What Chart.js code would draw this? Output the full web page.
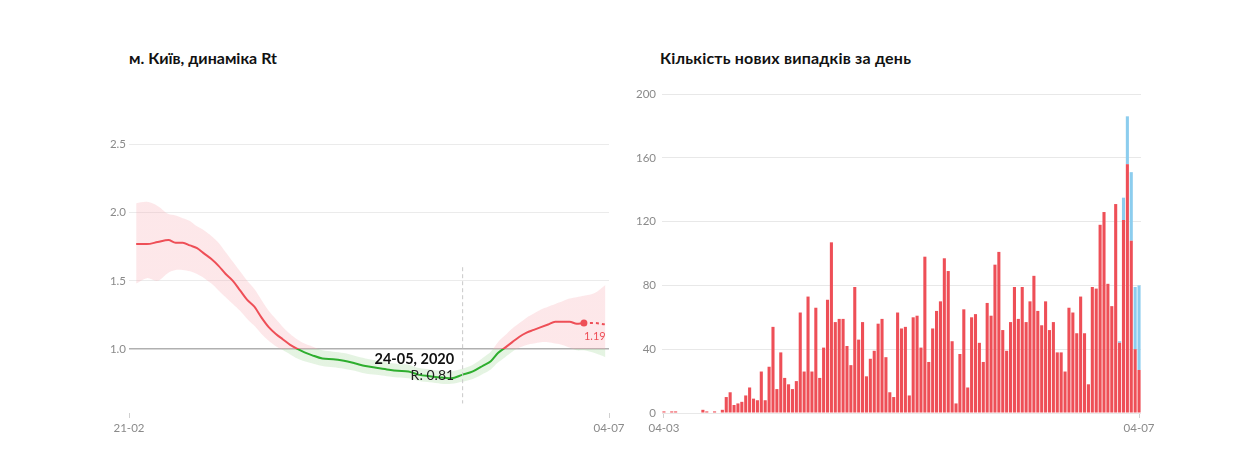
<!DOCTYPE html>
<html>
<head>
<meta charset="utf-8">
<script src="https://cdn.jsdelivr.net/npm/chart.js@4.4.1/dist/chart.umd.min.js"></script>
<style>
  body { margin:0; background:#fff; width:1257px; height:466px; overflow:hidden; font-family:Lato, 'Open Sans', sans-serif; }
  .title { position:absolute; top:48px; font-size:16px; font-weight:700; color:#111; line-height:20px; white-space:nowrap; }
  .box { position:absolute; top:70px; height:370px; }
</style>
</head>
<body>
<div class="title" style="left:129px;">м. Київ, динаміка Rt</div>
<div class="title" style="left:660px; letter-spacing:0.2px;">Кількість нових випадків за день</div>
<div class="box" style="left:80px; width:549px;"><canvas id="rtChart"></canvas></div>
<div class="box" style="left:620px; width:541px;"><canvas id="casesChart"></canvas></div>
<script>
// Rt: days counted from 21-02
const rtDays   = [2, 5, 8, 11, 13, 15, 17, 19, 21, 23, 25, 27, 29, 31, 33, 35, 37, 39, 41, 43, 45, 47, 49, 51, 54, 57, 60, 63, 66, 69, 72, 75, 78, 81, 84, 87, 90, 93, 96, 99, 101, 103, 105, 107, 109, 111, 113, 115, 117, 119, 121, 123, 125, 127, 130, 133];
const rtValues = [1.77, 1.77, 1.785, 1.80, 1.78, 1.78, 1.76, 1.74, 1.70, 1.66, 1.61, 1.55, 1.50, 1.43, 1.36, 1.31, 1.23, 1.16, 1.11, 1.07, 1.03, 1.00, 0.975, 0.955, 0.93, 0.925, 0.913, 0.895, 0.875, 0.862, 0.85, 0.84, 0.835, 0.81, 0.80, 0.79, 0.785, 0.81, 0.835, 0.88, 0.91, 0.97, 1.01, 1.05, 1.09, 1.12, 1.14, 1.16, 1.18, 1.20, 1.20, 1.20, 1.185, 1.19, 1.19, 1.18];
const rtLow    = [1.48, 1.52, 1.50, 1.56, 1.58, 1.58, 1.57, 1.55, 1.52, 1.48, 1.43, 1.38, 1.33, 1.28, 1.22, 1.17, 1.11, 1.06, 1.02, 0.99, 0.96, 0.93, 0.91, 0.895, 0.875, 0.865, 0.855, 0.84, 0.82, 0.81, 0.80, 0.79, 0.785, 0.765, 0.755, 0.745, 0.745, 0.76, 0.78, 0.82, 0.85, 0.90, 0.94, 0.98, 1.01, 1.03, 1.04, 1.05, 1.05, 1.04, 1.03, 1.01, 0.99, 0.99, 0.97, 0.94];
const rtHigh   = [2.07, 2.08, 2.05, 1.99, 1.98, 1.96, 1.94, 1.90, 1.87, 1.83, 1.78, 1.71, 1.64, 1.57, 1.50, 1.44, 1.36, 1.28, 1.22, 1.16, 1.11, 1.07, 1.04, 1.02, 0.99, 0.98, 0.97, 0.95, 0.93, 0.915, 0.90, 0.89, 0.885, 0.86, 0.85, 0.84, 0.835, 0.855, 0.885, 0.94, 0.98, 1.05, 1.10, 1.15, 1.19, 1.23, 1.26, 1.29, 1.31, 1.33, 1.35, 1.37, 1.38, 1.39, 1.41, 1.47];
const rtTickDays = [0, 134];
const rtTickLabels = ['21-02', '04-07'];
const rtYTicks = [1.0, 1.5, 2.0, 2.5];
const rtLastSolidDay = 127;
const rtMarkDay = 93;
const rtMarkTitle = '24-05, 2020';
const rtMarkText = 'R: 0.81';

// new cases per day from 04-03
const casesStart = new Date(2020, 2, 4);
const confirmedCases = [1, 0, 1, 1, 0, 0, 0, 0, 0, 0, 2, 1, 0, 1, 0, 2, 10, 13, 5, 6,
  7, 11, 16, 9, 8, 26, 8, 29, 54, 15, 38, 22, 18, 15, 20, 63, 26, 73, 26, 66,
  22, 41, 71, 107, 57, 59, 59, 42, 30, 79, 46, 57, 23, 34, 39, 56, 59, 35, 13, 10,
  63, 53, 54, 11, 60, 61, 41, 98, 32, 53, 64, 70, 97, 89, 45, 6, 37, 65, 16, 60,
  62, 44, 32, 69, 61, 93, 101, 52, 39, 57, 79, 59, 79, 57, 70, 86, 64, 55, 70, 52,
  57, 38, 38, 26, 66, 63, 50, 73, 50, 18, 79, 78, 118, 126, 81, 67, 131, 44, 121, 156,
  108, 40, 27];
const pendingCases = new Array(117).fill(0).concat([1, 14, 30, 43, 39, 53]);
const casesYTicks = { min: 0, max: 200, step: 40 };

const RED = '#ee4f57';
const GREEN = '#2eae2e';
const BLUE = '#8ccdee';
const TICK_FONT = { family: 'Lato', size: 11.5 };
const TICK_COLOR = '#8a8a8a';

const caseLabels = confirmedCases.map((v, i) => {
    const d = new Date(casesStart.getTime() + i * 86400000);
    return String(d.getDate()).padStart(2, '0') + '-' + String(d.getMonth() + 1).padStart(2, '0');
});

function splitAtOne(ctx, above, below) {
    const chart = ctx.chart;
    const area = chart.chartArea;
    if (!area) return above;
    const y1 = chart.scales.y.getPixelForValue(1);
    const g = chart.ctx.createLinearGradient(0, area.top, 0, area.bottom);
    const stop = Math.min(Math.max((y1 - area.top) / (area.bottom - area.top), 0), 1);
    g.addColorStop(0, above); g.addColorStop(stop, above);
    g.addColorStop(stop, below); g.addColorStop(1, below);
    return g;
}

const lastSolidIdx = rtDays.indexOf(rtLastSolidDay);

const rtMarks = {
    id: 'rtMarks',
    afterDatasetsDraw(chart) {
        const { ctx, scales: { x, y } } = chart;
        const mx = x.getPixelForValue(rtMarkDay);
        ctx.save();
        ctx.strokeStyle = '#c8c8c8'; ctx.lineWidth = 1; ctx.setLineDash([4, 3]);
        ctx.beginPath(); ctx.moveTo(mx + 0.5, y.getPixelForValue(1.6)); ctx.lineTo(mx + 0.5, y.getPixelForValue(0.6)); ctx.stroke();
        ctx.setLineDash([]);
        ctx.textAlign = 'right'; ctx.textBaseline = 'middle';
        ctx.fillStyle = '#111'; ctx.font = 'bold 14.5px Lato';
        ctx.fillText(rtMarkTitle, mx - 8, 289);
        ctx.fillStyle = '#222'; ctx.font = '14px Lato';
        ctx.fillText(rtMarkText, mx - 8, 305);
        // last solid value label
        const pt = chart.getDatasetMeta(0).data[lastSolidIdx];
        ctx.textAlign = 'left'; ctx.fillStyle = RED; ctx.font = '11px Lato';
        ctx.fillText(rtValues[lastSolidIdx].toFixed(2), pt.x, pt.y + 13);
        ctx.restore();
    }
};

new Chart(document.getElementById('rtChart'), {
    type: 'line',
    data: {
        datasets: [{
            data: rtDays.map((d, i) => ({ x: d, y: rtValues[i] })),
            borderColor: ctx => splitAtOne(ctx, RED, GREEN),
            borderWidth: 2,
            fill: false,
            cubicInterpolationMode: 'monotone',
            pointRadius: ctx => ctx.dataIndex === lastSolidIdx ? 3.5 : 0,
            pointBackgroundColor: RED, pointBorderWidth: 0,
            segment: { borderDash: ctx => ctx.p0DataIndex >= lastSolidIdx ? [3, 3] : undefined }
        }, {
            data: rtDays.map((d, i) => ({ x: d, y: rtHigh[i] })),
            borderWidth: 0, pointRadius: 0, fill: false, tension: 0.3
        }, {
            data: rtDays.map((d, i) => ({ x: d, y: rtLow[i] })),
            borderWidth: 0, pointRadius: 0, tension: 0.3,
            fill: '-1',
            backgroundColor: ctx => splitAtOne(ctx, 'rgba(248,170,178,0.28)', 'rgba(150,210,140,0.25)')
        }]
    },
    options: {
        responsive: true, maintainAspectRatio: false, animation: false,
        layout: { padding: { top: 61, right: 20, bottom: 7, left: 0 } },
        plugins: { legend: { display: false }, tooltip: { enabled: false } },
        scales: {
            x: {
                type: 'linear', min: rtTickDays[0], max: rtTickDays[1],
                afterBuildTicks: s => { s.ticks = rtTickDays.map(v => ({ value: v })); },
                afterFit: s => { s.height = 20; },
                ticks: { font: TICK_FONT, color: TICK_COLOR, padding: 3, maxRotation: 0,
                    callback: v => rtTickLabels[rtTickDays.indexOf(v)] },
                grid: { drawOnChartArea: false, drawTicks: true, tickLength: 5, color: '#d0d0d0' },
                border: { display: false }
            },
            y: {
                min: 0.53, max: 2.6,
                afterBuildTicks: s => { s.ticks = rtYTicks.map(v => ({ value: v })); },
                afterFit: s => { s.width = 49; },
                ticks: { font: TICK_FONT, color: TICK_COLOR, padding: 3, callback: v => v.toFixed(1) },
                grid: { drawTicks: false,
                    color: ctx => ctx.tick && ctx.tick.value === 1 ? '#b0b0b0' : '#ebebeb',
                    lineWidth: ctx => ctx.tick && ctx.tick.value === 1 ? 1.6 : 1 },
                border: { display: false }
            }
        }
    },
    plugins: [rtMarks]
});

new Chart(document.getElementById('casesChart'), {
    type: 'bar',
    data: {
        labels: caseLabels,
        datasets: [
            { data: confirmedCases, backgroundColor: RED, barPercentage: 0.88, categoryPercentage: 0.9 },
            { data: pendingCases, backgroundColor: BLUE, barPercentage: 0.88, categoryPercentage: 0.9 }
        ]
    },
    options: {
        responsive: true, maintainAspectRatio: false, animation: false,
        layout: { padding: { top: 24, right: 20, bottom: 7, left: 0 } },
        plugins: { legend: { display: false }, tooltip: { enabled: false } },
        scales: {
            x: {
                stacked: true,
                afterFit: s => { s.height = 20; },
                ticks: { font: TICK_FONT, color: TICK_COLOR, padding: 3, autoSkip: false, maxRotation: 0,
                    callback: (v, i) => (i === 0 || i === caseLabels.length - 1) ? caseLabels[i] : '' },
                grid: { offset: false, drawOnChartArea: false, drawTicks: true, tickLength: 5,
                    color: ctx => (ctx.index === 0 || ctx.index === caseLabels.length - 1) ? '#d0d0d0' : 'rgba(0,0,0,0)' },
                border: { display: false }
            },
            y: {
                stacked: true, min: casesYTicks.min, max: casesYTicks.max,
                afterFit: s => { s.width = 42; },
                ticks: { font: TICK_FONT, color: TICK_COLOR, padding: 6, stepSize: casesYTicks.step },
                grid: { drawTicks: false, color: '#e8e8e8' },
                border: { display: false }
            }
        }
    }
});
</script>
</body>
</html>
